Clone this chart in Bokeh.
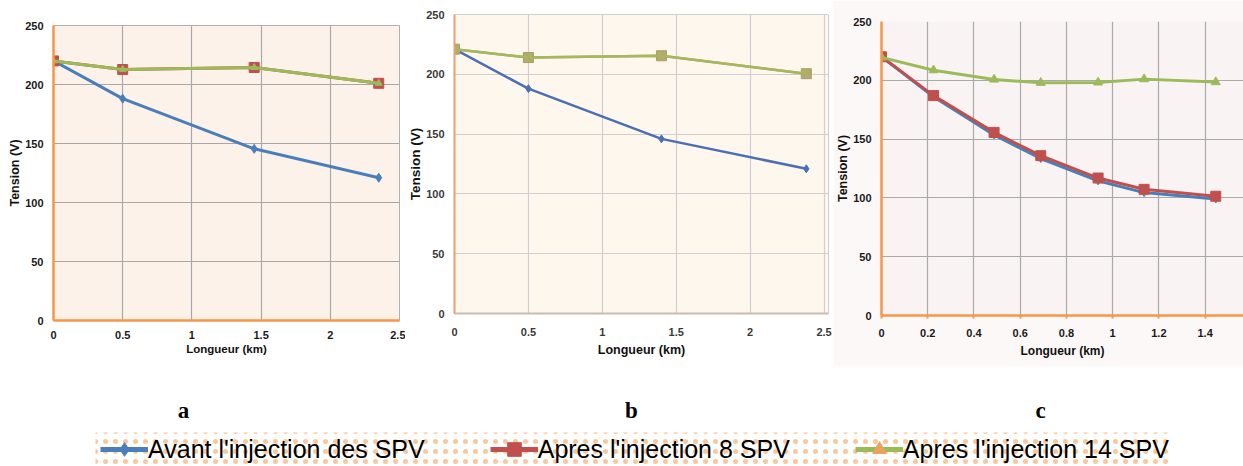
from bokeh.plotting import figure
from bokeh.layouts import column, row
from bokeh.models import Range1d, FixedTicker, Legend, LegendItem, Label, BoxAnnotation
from bokeh.embed import file_html
from bokeh.resources import INLINE

# ---------------- data ----------------
a_x = [0, 0.5, 1.45, 2.35]
a_avant = [220, 188, 145.5, 121]
a_8spv = [220, 212.7, 214.4, 201]
a_14spv = [220, 212.7, 214.4, 201]

b_x = [0, 0.5, 1.4, 2.38]
b_avant = [221, 188, 146, 121]
b_8spv = [221, 214, 215.5, 200.5]
b_14spv = [221, 214, 215.5, 200.5]

c_x = [0, 0.225, 0.487, 0.689, 0.937, 1.136, 1.446]
c_avant = [220, 186, 153.5, 133.5, 114.5, 104.5, 99]
c_8spv = [220, 187, 155.7, 135.9, 116.9, 107.3, 101.4]
c_14spv = [219.5, 208.6, 200.7, 197.9, 198.2, 201, 198.5]

y_ticks = [0, 50, 100, 150, 200, 250]
ab_x_ticks = [0, 0.5, 1, 1.5, 2, 2.5]
ab_x_labels = ["0", "0.5", "1", "1.5", "2", "2.5"]
c_x_ticks = [0, 0.2, 0.4, 0.6, 0.8, 1.0, 1.2, 1.4]
c_x_labels = ["0", "0.2", "0.4", "0.6", "0.8", "1", "1.2", "1.4"]

series_names = ["Avant l'injection des SPV", "Apres l'injection 8 SPV", "Apres l'injection 14 SPV"]
panel_labels = ["a", "b", "c"]
y_title = "Tension (V)"
x_title = "Longueur (km)"

BLUE = "#4a7ebb"
RED = "#c0504d"
GREEN = "#9bbb59"
ORANGE = "#f79646"
FONT = "Liberation Sans"
TOP_H = 366


def make_panel(width, x_end, borders, xticks, xlabels, bg, grid_color,
               left_axis_color, bottom_axis_color, axis_w, tick_size, ytitle_size,
               xtitle_size, stand, text_color="#1a1a1a", outline="#b0b0b0", border_bg="white"):
    left, right, top, bottom = borders
    p = figure(width=width, height=TOP_H, x_range=Range1d(0, x_end), y_range=Range1d(0, 250),
               output_backend="svg", toolbar_location=None,
               min_border_left=left, min_border_right=right,
               min_border_top=top, min_border_bottom=bottom)
    p.background_fill_color = bg
    p.border_fill_color = border_bg
    p.outline_line_color = outline
    p.xaxis.ticker = FixedTicker(ticks=xticks)
    p.xaxis.major_label_overrides = {t: l for t, l in zip(xticks, xlabels)}
    p.yaxis.ticker = FixedTicker(ticks=y_ticks)
    p.yaxis.major_label_overrides = {t: str(t) for t in y_ticks}
    for ax in (p.xaxis[0], p.yaxis[0]):
        ax.major_tick_line_color = None
        ax.minor_tick_line_color = None
        ax.major_tick_out = 0
        ax.major_tick_in = 0
        ax.minor_tick_out = 0
        ax.major_label_text_font = FONT
        ax.major_label_text_font_style = "bold"
        ax.major_label_text_font_size = tick_size
        ax.major_label_text_color = text_color
        ax.axis_label_text_font = FONT
        ax.axis_label_text_font_style = "bold"
        ax.axis_label_text_color = "#111111"
        ax.axis_line_width = axis_w
    p.yaxis.axis_line_color = left_axis_color
    p.xaxis.axis_line_color = bottom_axis_color
    p.yaxis.axis_label = y_title
    p.xaxis.axis_label = x_title
    p.yaxis.axis_label_text_font_size = ytitle_size
    p.xaxis.axis_label_text_font_size = xtitle_size
    ys, ysl, xs, xsl = stand
    p.yaxis.major_label_standoff = ys
    p.yaxis.axis_label_standoff = ysl
    p.xaxis.major_label_standoff = xs
    p.xaxis.axis_label_standoff = xsl
    p.xgrid.grid_line_color = grid_color
    p.ygrid.grid_line_color = grid_color
    p.xgrid.grid_line_width = 1.2
    p.ygrid.grid_line_width = 1.2
    return p


# Panel a  (frame x 53..399, y 25..320)
pa = make_panel(405, 2.5, (53, 6, 25, TOP_H - 320), ab_x_ticks, ab_x_labels, "#fcf2ea", "#a8a8a8",
                ORANGE, ORANGE, 2.5, "11px", "12.5px", "11.5px", (10, 0, 10, 1))
pa.line(a_x, a_avant, line_color=BLUE, line_width=3)
pa.scatter(a_x, a_avant, marker="diamond", size=9, fill_color=BLUE, line_color=BLUE)
pa.line(a_x, a_8spv, line_color=RED, line_width=3)
pa.scatter(a_x, a_8spv, marker="square", size=10, fill_color=RED, line_color=RED)
pa.line(a_x, a_14spv, line_color=GREEN, line_width=3)
pa.scatter(a_x, a_14spv, marker="triangle", size=7, fill_color=GREEN, line_color=GREEN)

# Panel b  (frame x 453..828, y 14..313)
pb = make_panel(428, 2.53, (48, 5, 14, TOP_H - 313), ab_x_ticks, ab_x_labels, "#fdf7ee", "#cfcfcf",
                "#e9a070", "#cdbcae", 2, "11px", "13.5px", "12.5px", (10, 0, 14, 4),
                text_color="#3a3a3a", outline="#cfcfcf")
pb.line(b_x, b_avant, line_color="#4a6fb5", line_width=2.5)
pb.scatter(b_x, b_avant, marker="diamond", size=8, fill_color="#4a6fb5", line_color="#4a6fb5")
pb.line(b_x, b_8spv, line_color="#b4aa6e", line_width=2.5)
pb.scatter(b_x, b_8spv, marker="square", size=10, fill_color="#b4aa6e", line_color="#a89f66")
pb.line(b_x, b_14spv, line_color="#a5b85c", line_width=2.5)

# Panel c  (frame x 881..1243, y 21..315)
pc = make_panel(410, 1.566, (48, 0, 21, TOP_H - 315), c_x_ticks, c_x_labels, "#f9f3f3", "#aaaaaa",
                ORANGE, ORANGE, 2.5, "11px", "12.5px", "12px", (10, 0, 10, 4), outline=None,
                border_bg="#fdf8f8")
pc.xaxis.major_tick_line_color = ORANGE
pc.xaxis.major_tick_line_width = 2
pc.xaxis.major_tick_out = 3
pc.line(c_x, c_avant, line_color=BLUE, line_width=3)
pc.scatter(c_x, c_avant, marker="diamond", size=8, fill_color=BLUE, line_color=BLUE)
pc.line(c_x, c_8spv, line_color=RED, line_width=3)
pc.scatter(c_x, c_8spv, marker="square", size=10, fill_color=RED, line_color=RED)
pc.line(c_x, c_14spv, line_color=GREEN, line_width=3)
pc.scatter(c_x, c_14spv, marker="triangle", size=9, fill_color=GREEN, line_color=GREEN)

# Bottom strip: panel letters and legend
BOT_H = 100
bot = figure(width=1243, height=BOT_H, x_range=Range1d(0, 1243), y_range=Range1d(0, BOT_H),
             x_axis_type=None, y_axis_type=None, output_backend="svg", toolbar_location=None,
             min_border=0)
bot.outline_line_color = None
bot.grid.visible = False
bot.background_fill_color = "white"

for lab, xc in zip(panel_labels, [183, 631, 1040]):
    bot.add_layout(Label(x=xc, y=56, text=lab, text_align="center", text_baseline="middle",
                         text_font="Liberation Serif", text_font_style="bold",
                         text_font_size="23px", text_color="#000000"))

bot.add_layout(BoxAnnotation(left=95, right=1172, bottom=0, top=34, fill_color="white",
                             fill_alpha=1.0, line_color=None, hatch_pattern="dot",
                             hatch_color="#f5a25d", hatch_scale=10, hatch_weight=1.5,
                             hatch_alpha=0.6))

# legend renderers: series of panel a, whose values (>120) lie above this strip's visible range
lb1 = bot.line(a_x, a_avant, line_color=BLUE, line_width=5)
lb2 = bot.scatter(a_x, a_avant, marker="diamond", size=13, fill_color=BLUE, line_color=BLUE)
lr1 = bot.line(a_x, a_8spv, line_color=RED, line_width=5)
lr2 = bot.scatter(a_x, a_8spv, marker="square", size=13, fill_color=RED, line_color=RED)
lg1 = bot.line(a_x, a_14spv, line_color=GREEN, line_width=5)
lg2 = bot.scatter(a_x, a_14spv, marker="triangle", size=13, fill_color="#eba25a",
                  line_color="#eba25a")

legend = Legend(items=[LegendItem(label=series_names[0], renderers=[lb1, lb2]),
                       LegendItem(label=series_names[1], renderers=[lr1, lr2]),
                       LegendItem(label=series_names[2], renderers=[lg1, lg2])],
                orientation="horizontal", location=(100, 0), padding=0, margin=0,
                spacing=65, glyph_width=48, glyph_height=34, label_height=34,
                label_standoff=0, label_text_font=FONT, label_text_font_size="25px",
                label_text_color="#000000", background_fill_alpha=0, border_line_alpha=0)
bot.add_layout(legend)

layout = column(row(column(pa), column(pb), column(pc), spacing=0), bot, spacing=0)
open("out.html", "w").write(file_html(layout, INLINE))
